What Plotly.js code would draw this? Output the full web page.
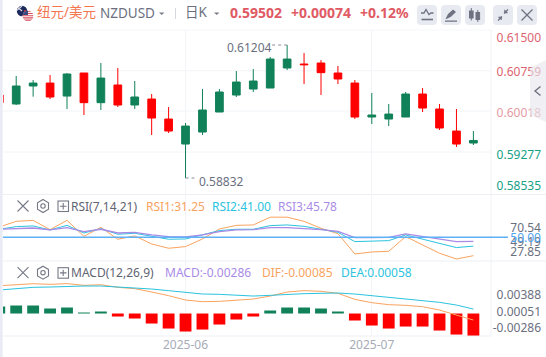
<!DOCTYPE html>
<html>
<head>
<meta charset="utf-8">
<script src="https://cdn.plot.ly/plotly-3.0.1.min.js"></script>
<style>html,body{margin:0;padding:0;background:#fff;overflow:hidden}#chart{width:546px;height:357px}</style>
</head>
<body>
<div id="chart"></div>
<script>
// ---- data ----
const index = [0,1,2,3,4,5,6,7,8,9,10,11,12,13,14,15,16,17,18,19,20,21,22,23,24,25,26,27,28];
const open  = [.60312,.60152,.60473,.60526,.60294,.60705,.60176,.60491,.60134,.60241,.59884,.59438,.59652,.60009,.60312,.60419,.60437,.60794,.60865,.60883,.60705,.60526,.59920,.59884,.59920,.60330,.60063,.59670,.59456];
const close = [.60176,.60473,.60526,.60277,.60687,.60176,.60615,.60134,.60277,.59902,.59670,.59759,.60045,.60366,.60544,.60562,.60954,.60954,.60853,.60711,.60598,.59920,.59956,.59973,.60330,.60080,.59724,.59438,.59502];
const high  = [.60342,.60651,.60580,.60669,.60705,.60705,.60883,.60794,.60562,.60330,.60098,.59813,.60419,.60419,.60740,.60776,.60990,.61204,.61061,.60936,.60830,.60580,.60348,.60152,.60366,.60437,.60152,.60063,.59670];
const low   = [.60134,.60134,.60283,.60241,.60063,.59956,.60045,.60098,.60063,.59599,.59635,.58832,.59599,.60009,.60277,.60366,.60437,.60758,.60508,.60312,.60508,.59884,.59795,.59759,.59920,.60009,.59688,.59385,.59421];
const rsi1 = [60.5,66.3,67.3,57.8,67.3,51.0,60.2,48.0,51.4,43.2,38.8,40.5,48.3,58.5,62.2,62.6,70.54,70.54,66.3,59.2,53.7,33.0,35.0,35.7,50.7,42.2,33.7,27.85,31.25];
const rsi2 = [58.2,60.9,61.6,57.5,62.2,54.4,58.8,53.1,54.1,50.7,48.0,48.3,52.4,56.8,58.2,58.2,61.9,62.6,61.2,57.8,55.1,45.6,46.3,46.6,52.4,48.3,44.2,39.5,41.00];
const rsi3 = [58.2,59.2,59.5,57.5,59.9,55.8,58.2,54.4,55.1,52.4,50.7,50.3,52.4,55.8,57.5,57.8,59.9,59.9,59.2,57.8,56.1,49.7,49.7,50.0,53.4,50.7,48.0,45.6,45.78];
const hist = [.00091,.00104,.00104,.00065,.00078,.00013,.00026,-.00039,-.00065,-.00130,-.00195,-.00234,-.00208,-.00143,-.00078,-.00039,.00039,.00078,.00078,.00065,.00026,-.00091,-.00156,-.00195,-.00169,-.00169,-.00221,-.00273,-.00286];
const dif = [.00361,.00374,.00387,.00379,.00388,.00366,.00374,.00340,.00323,.00279,.00232,.00175,.00154,.00158,.00175,.00188,.00227,.00279,.00297,.00288,.00262,.00184,.00141,.00115,.00106,.00089,.00045,-.00019,-.00085];
const dea = [.00305,.00327,.00340,.00344,.00353,.00357,.00357,.00344,.00340,.00318,.00297,.00279,.00253,.00249,.00236,.00227,.00236,.00249,.00258,.00262,.00266,.00253,.00232,.00210,.00193,.00171,.00145,.00110,.00058];
const monthTickIndex = [11,22];
const monthTickLabels = ['2025-06','2025-07'];
const priceLabels = ['0.61500','0.60759','0.60018','0.59277','0.58535'];
const priceLabelAt = [.61334,.60722,.59991,.59242,.58689];
const priceGrid = [.60746,.60027,.59296];
const rsiLabels = ['70.54','49.19','27.85','50.00'];
const rsiLabelAt = [60.2,45.5,34.7,50];
const macdLabels = ['0.00388','0.00051','-0.00286'];
const macdLabelAt = [.0024,.00023,-.00179];

// ---- look ----
const GREEN='#108158', RED='#ff0000', W=546, H=357, FONT='"Noto Sans","Noto Sans CJK SC",sans-serif';
const GREY='#6b7080', ORANGE='#f9a35f', CYAN='#2bc3de', PURPLE='#a98be6', BLUE='#5fb0f6', GRID='#f2f4f8', SEP='#edeff4';
const px=x=>x/W, py=y=>1-y/H;

function label(text,x,y,color,size,weight){
  return {text:weight?`<b>${text}</b>`:text,xref:'paper',yref:'paper',x:px(x),y:py(y),xanchor:'left',yanchor:'middle',
    showarrow:false,borderpad:0,borderwidth:0,font:{family:FONT,size:size||12,color:color}};
}
function hline(y,x0,x1,color){return {type:'line',xref:'paper',yref:'paper',x0:px(x0),x1:px(x1),y0:py(y),y1:py(y),line:{color,width:1},layer:'below'};}

const icons=(y)=>`
<g fill="none" stroke="#757986" stroke-width="1.1">
<path d="M17.5 ${y-5.5}L28.5 ${y+5.5}M28.5 ${y-5.5}L17.5 ${y+5.5}"/>
<path d="M43 ${y-6.5}L48.5 ${y-3.3}V${y+3.3}L43 ${y+6.5}L37.5 ${y+3.3}V${y-3.3}Z"/><circle cx="43" cy="${y}" r="2.2"/>
<rect x="58" y="${y-5}" width="10.5" height="10.5"/><path d="M60 ${y+.2}H66.5M63.2 ${y-3}V${y+3.4}"/>
</g>`;
const btn=(x)=>`<rect x="${x}" y="5" width="20" height="20" rx="4" fill="#e8eaf2"/>`;
const chrome=`<svg xmlns="http://www.w3.org/2000/svg" width="${W}" height="${H}" viewBox="0 0 ${W} ${H}">
<rect x="0" y="0" width="2.6" height="${H}" fill="#e8ebf3"/>
<defs><clipPath id="a"><circle cx="22" cy="11" r="5.2"/></clipPath><clipPath id="b"><circle cx="28" cy="16" r="5.4"/></clipPath></defs>
<g clip-path="url(#a)"><rect x="16" y="5" width="12" height="12" fill="#1c2a5e"/><path d="M16 6L22 11M22 6L16 11" stroke="#d9d9e3" stroke-width="1.2"/><circle cx="25" cy="11" r=".9" fill="#d33"/></g>
<g clip-path="url(#b)"><rect x="22" y="10" width="12" height="12" fill="#fff"/>
<path d="M22 11.3H34M22 13.5H34M22 15.7H34M22 17.9H34M22 20.1H34" stroke="#d8485a" stroke-width="1.1"/><rect x="22" y="10" width="6" height="5" fill="#3d4a82"/></g>
<path d="M159 12.6H164.4L161.7 15Z" fill="#767a88"/><path d="M214 12.6H219.4L216.7 15Z" fill="#767a88"/>
<path d="M175.5 8V19" stroke="#d5d8e0"/>
${btn(417)}${btn(441)}${btn(465)}${btn(493)}${btn(517)}
<g stroke="#6e7281" fill="none" stroke-width="1.3"><path d="M421 13H424L426 9.5L429 14.5L431 13H433.5"/><path d="M421.5 19.5H433" stroke-width="1.6"/></g>
<path d="M445.5 19L448 14L453 9.5L456 12L451 16.8L447 18.8ZM445 20.5H457V21.8H445Z" fill="#6e7281"/>
<g fill="#6e7281" stroke="#6e7281"><rect x="469.5" y="11" width="3.6" height="7"/><path d="M471.3 8V20.5" fill="none"/><rect x="476" y="12.5" width="3.6" height="7"/><path d="M477.8 10V22" fill="none"/></g>
<g stroke="#6e7281" fill="#6e7281" stroke-width="1.2"><path d="M498 20.5L502 16.5M508 9.5L504 13.5" fill="none"/><path d="M504.5 9.8V13H507.7Z" stroke-width=".5"/><path d="M501.5 20V16.9H498.4Z" stroke-width=".5"/></g>
<path d="M521.5 9.5L532.5 20.5M532.5 9.5L521.5 20.5" stroke="#6e7281" stroke-width="1.3" fill="none"/>
<path d="M546 60L530 68V115L546 122Z" fill="#e6e7ee" fill-opacity="0.62"/>
<path d="M540.5 86.5L535 91L540.5 95.5" fill="none" stroke="#6e7281" stroke-width="1.4"/>
${icons(206)}${icons(272.7)}
</svg>`;

const traces=[
 {type:'candlestick',x:index,open,high,low,close,xaxis:'x',yaxis:'y',hoverinfo:'none',whiskerwidth:0,
  increasing:{line:{color:GREEN,width:1},fillcolor:GREEN},decreasing:{line:{color:RED,width:1},fillcolor:RED}},
 {type:'scatter',mode:'lines',x:index,y:rsi1,xaxis:'x',yaxis:'y2',line:{color:ORANGE,width:1},hoverinfo:'none'},
 {type:'scatter',mode:'lines',x:index,y:rsi2,xaxis:'x',yaxis:'y2',line:{color:CYAN,width:1},hoverinfo:'none'},
 {type:'scatter',mode:'lines',x:index,y:rsi3,xaxis:'x',yaxis:'y2',line:{color:PURPLE,width:1.3},hoverinfo:'none'},
 {type:'bar',x:index,y:hist,width:0.7,xaxis:'x',yaxis:'y3',marker:{color:hist.map(v=>v>=0?GREEN:RED),line:{width:0}},hoverinfo:'none'},
 {type:'scatter',mode:'lines',x:index,y:dif,xaxis:'x',yaxis:'y3',line:{color:ORANGE,width:1},hoverinfo:'none'},
 {type:'scatter',mode:'lines',x:index,y:dea,xaxis:'x',yaxis:'y3',line:{color:CYAN,width:1},hoverinfo:'none'}
];

function rightAxis(domTop,domBottom,range,vals,texts){
  return {domain:[py(domBottom),py(domTop)],range,tickmode:'array',tickvals:vals,ticktext:texts,anchor:'free',position:541/W,side:'left',
    showgrid:false,zeroline:false,showline:false,ticks:'',fixedrange:true,
    tickfont:{family:FONT,size:12,color:GREY},automargin:false};
}
const colouredPrice=priceLabels.map((t,i)=>`<span style="color:${i<2?'#dc6470':(i==2?'#e59aa2':'#17a187')}">${t}</span>`);
const colouredRsi=rsiLabels.map(t=>t==='50.00'?`<span style="color:#4ea5f4">${t}</span>`:t);

const layout={
 width:W,height:H,margin:{l:0,r:0,t:0,b:0,pad:0},paper_bgcolor:'#fff',plot_bgcolor:'rgba(0,0,0,0)',showlegend:false,
 boxgap:0.35,bargap:0.3,dragmode:false,
 xaxis:{domain:[px(3),px(491)],range:[0.22,29.04],anchor:'y3',rangeslider:{visible:false},tickmode:'array',tickvals:monthTickIndex,ticktext:monthTickLabels,
   showgrid:true,gridcolor:GRID,gridwidth:1,zeroline:false,showline:false,ticks:'',ticklen:0,tickfont:{family:FONT,size:12,color:'#a7abb7'},automargin:false,fixedrange:true},
 yaxis:rightAxis(30,194,[.58547,.61472],priceLabelAt,colouredPrice),
 yaxis2:rightAxis(194,261,[25.8,94.2],rsiLabelAt,colouredRsi),
 yaxis3:rightAxis(261,336,[-.00292,.00682],macdLabelAt,macdLabels),
 shapes:[
   hline(30,3,491,'#f6f7fa'),hline(194.5,3,546,SEP),hline(261,3,546,SEP),hline(336,3,491,SEP),
   {type:'line',xref:'paper',yref:'paper',x0:px(491),x1:px(491),y0:py(30),y1:py(336),line:{color:'#f1f2f6',width:1},layer:'below'},
   ...priceGrid.map(v=>({type:'line',xref:'paper',yref:'y',x0:px(3),x1:px(491),y0:v,y1:v,line:{color:GRID,width:1},layer:'below'})),
   {type:'line',xref:'paper',yref:'y2',x0:px(3),x1:px(508),y0:50,y1:50,line:{color:BLUE,width:1.4},layer:'above'},
   {type:'line',xref:'x',yref:'y',x0:17,x1:16.1,y0:.61204,y1:.61204,line:{color:'#8b8f9c',width:1,dash:'dot'}},
   {type:'line',xref:'x',yref:'y',x0:11,x1:11.6,y0:.58832,y1:.58832,line:{color:'#8b8f9c',width:1,dash:'dot'}}
 ],
 images:[{source:'data:image/svg+xml;charset=utf-8,'+encodeURIComponent(chrome),xref:'paper',yref:'paper',x:0,y:1,sizex:1,sizey:1,sizing:'stretch',xanchor:'left',yanchor:'top',layer:'above'}],
 annotations:[
   label('纽元/美元',37,12.5,'#f4764f',13.5),
   label('NZDUSD',100,13,'#6b7080',13.5),
   label('日K',185,12.5,'#6b7080',13.5),
   label('0.59502',230,12.5,'#df5a63',14,true),
   label('+0.00074',291,12.5,'#df5a63',14,true),
   label('+0.12%',360,12.5,'#df5a63',14,true),
   {text:'0.61204',xref:'x',yref:'y',x:17,y:.61204,xanchor:'right',yanchor:'middle',xshift:-14,yshift:-2.5,showarrow:false,borderpad:0,font:{family:FONT,size:12,color:GREY}},
   {text:'0.58832',xref:'x',yref:'y',x:11,y:.58832,xanchor:'left',yanchor:'middle',xshift:12,yshift:-3,showarrow:false,borderpad:0,font:{family:FONT,size:12,color:GREY}},
   label('RSI(7,14,21)',71,206.3,'#5f6472',12),
   label('RSI1:31.25',146,206.3,ORANGE,12),
   label('RSI2:41.00',212,206.3,CYAN,12),
   label('RSI3:45.78',278,206.3,PURPLE,12),
   label('MACD(12,26,9)',71,272.7,'#5f6472',12),
   label('MACD:-0.00286',165,272.7,PURPLE,12),
   label('DIF:-0.00085',262,272.7,ORANGE,12),
   label('DEA:0.00058',341,272.7,CYAN,12)
 ]
};
Plotly.newPlot('chart',traces,layout,{displayModeBar:false,staticPlot:true,responsive:false});
</script>
</body>
</html>
